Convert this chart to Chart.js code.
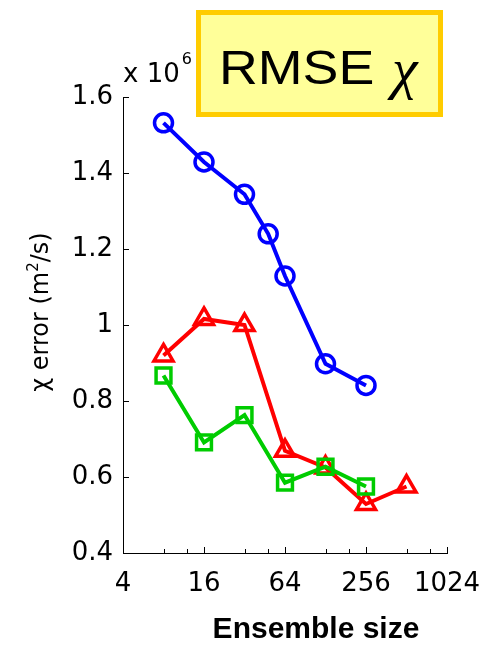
<!DOCTYPE html>
<html>
<head>
<meta charset="utf-8">
<script src="https://cdn.jsdelivr.net/npm/chart.js@4/dist/chart.umd.min.js"></script>
<style>
  html, body { margin: 0; padding: 0; background: #fff; }
  #wrap { width: 483px; height: 659px; }
</style>
</head>
<body>
<div id="wrap"><canvas id="c" width="483" height="659"></canvas></div>
<script>
// Ensemble sizes used by each run
const sizesCircle = [8, 16, 32, 48, 64, 128, 256];
const sizesTriangle = [8, 16, 32, 64, 128, 256, 512];
const sizesSquare = [8, 16, 32, 64, 128, 256];

// RMSE of chi, in units of 10^6 m^2/s
const rmseCircle = [1.532, 1.429, 1.344, 1.240, 1.129, 0.898, 0.841];
const rmseTriangle = [0.920, 1.016, 1.000, 0.669, 0.625, 0.529, 0.575];
const rmseSquare = [0.867, 0.691, 0.763, 0.585, 0.627, 0.575];

// Axis ticks
const xTickValues = [4, 16, 64, 256, 1024];
const xTickLabels = ['4', '16', '64', '256', '1024'];
const xMinorTicks = [8, 12, 32, 48, 128, 192, 512, 768];
const yTickValues = [0.4, 0.6, 0.8, 1.0, 1.2, 1.4, 1.6];
const yTickLabels = ['0.4', '0.6', '0.8', '1', '1.2', '1.4', '1.6'];

const toPoints = (xs, ys) => xs.map((x, i) => ({ x: x, y: ys[i] }));

// Inward tick marks on the two visible axes
const innerTicks = {
  id: 'innerTicks',
  beforeDatasetsDraw(chart) {
    const ctx = chart.ctx, xs = chart.scales.x, ys = chart.scales.y, a = chart.chartArea;
    ctx.save();
    ctx.strokeStyle = '#000';
    ctx.lineWidth = 1;
    ctx.beginPath();
    xTickValues.forEach(v => {
      const px = Math.round(xs.getPixelForValue(v)) + 0.5;
      ctx.moveTo(px, a.bottom); ctx.lineTo(px, a.bottom - 6);
    });
    xMinorTicks.forEach(v => {
      const px = Math.round(xs.getPixelForValue(v)) + 0.5;
      ctx.moveTo(px, a.bottom); ctx.lineTo(px, a.bottom - 4);
    });
    yTickValues.forEach(v => {
      const py = Math.round(ys.getPixelForValue(v)) + 0.5;
      ctx.moveTo(a.left, py); ctx.lineTo(a.left + 6, py);
    });
    ctx.stroke();
    ctx.restore();
  }
};

// Axis titles, exponent note and the boxed heading
const annotations = {
  id: 'annotations',
  afterDraw(chart) {
    const ctx = chart.ctx, a = chart.chartArea;
    ctx.save();
    ctx.fillStyle = '#000';
    ctx.textAlign = 'left';
    ctx.textBaseline = 'alphabetic';

    // exponent of the y axis
    ctx.font = '26px "DejaVu Sans"';
    ctx.fillText('x 10', a.left, 82);
    const w10 = ctx.measureText('x 10').width;
    ctx.font = '16px "DejaVu Sans"';
    ctx.fillText('6', a.left + w10 + 2, 64);

    // y axis title (rotated)
    const parts = [
      { t: '\u03C7 error (m', f: '24px "DejaVu Sans"', dy: 0 },
      { t: '2', f: '15px "DejaVu Sans"', dy: -10 },
      { t: '/s)', f: '24px "DejaVu Sans"', dy: 0 }
    ];
    let total = 0;
    parts.forEach(p => { ctx.font = p.f; p.w = ctx.measureText(p.t).width; total += p.w; });
    ctx.save();
    ctx.translate(48, (a.top + a.bottom) / 2 - 13);
    ctx.rotate(-Math.PI / 2);
    let cx = -total / 2;
    parts.forEach(p => { ctx.font = p.f; ctx.fillText(p.t, cx, p.dy); cx += p.w; });
    ctx.restore();

    // x axis title
    ctx.font = 'bold 30px "Liberation Sans"';
    ctx.textAlign = 'center';
    ctx.fillText('Ensemble size', 316, 638);

    // heading box
    ctx.fillStyle = '#FFFF99';
    ctx.fillRect(198.5, 12.5, 242, 102);
    ctx.strokeStyle = '#FFCC00';
    ctx.lineWidth = 5;
    ctx.strokeRect(198.5, 12.5, 242, 102);
    ctx.fillStyle = '#000';
    ctx.textAlign = 'left';
    ctx.save();
    ctx.translate(219, 84);
    ctx.scale(1.12, 1);
    ctx.font = '48px "Liberation Sans"';
    ctx.fillText('RMSE', 0, 0);
    ctx.restore();
    ctx.font = 'italic 58px "Liberation Serif"';
    ctx.fillText('\u03C7', 392, 88);
    ctx.restore();
  }
};

new Chart(document.getElementById('c'), {
  type: 'scatter',
  data: {
    datasets: [
      {
        label: 'circles',
        data: toPoints(sizesCircle, rmseCircle),
        showLine: true,
        borderColor: '#0000FF',
        backgroundColor: 'rgba(0,0,0,0)',
        borderWidth: 4,
        pointStyle: 'circle',
        pointRadius: 9,
        pointBorderWidth: 3.5,
        pointBorderColor: '#0000FF',
        pointBackgroundColor: 'rgba(0,0,0,0)',
        order: 3,
        clip: false
      },
      {
        label: 'triangles',
        data: toPoints(sizesTriangle, rmseTriangle),
        showLine: true,
        borderColor: '#FF0000',
        backgroundColor: 'rgba(0,0,0,0)',
        borderWidth: 4,
        pointStyle: 'triangle',
        pointRadius: 11,
        pointBorderWidth: 3.5,
        pointBorderColor: '#FF0000',
        pointBackgroundColor: 'rgba(0,0,0,0)',
        order: 2,
        clip: false
      },
      {
        label: 'squares',
        data: toPoints(sizesSquare, rmseSquare),
        showLine: true,
        borderColor: '#00CC00',
        backgroundColor: 'rgba(0,0,0,0)',
        borderWidth: 4,
        pointStyle: 'rect',
        pointRadius: 10.5,
        pointBorderWidth: 3.5,
        pointBorderColor: '#00CC00',
        pointBackgroundColor: 'rgba(0,0,0,0)',
        order: 1,
        clip: false
      }
    ]
  },
  options: {
    responsive: false,
    animation: false,
    devicePixelRatio: 1,
    layout: { padding: { top: 97, right: 36, left: 0, bottom: 0 } },
    plugins: { legend: { display: false }, tooltip: { enabled: false }, title: { display: false } },
    scales: {
      x: {
        type: 'logarithmic',
        min: 4,
        max: 1024,
        grid: { display: false, drawTicks: false },
        border: { display: true, color: '#000', width: 1 },
        afterBuildTicks: s => { s.ticks = xTickValues.map(v => ({ value: v })); },
        afterFit: s => { s.height = 106; s.paddingLeft = 0; s.paddingRight = 0; },
        ticks: {
          autoSkip: false,
          maxRotation: 0,
          padding: 16,
          color: '#000',
          font: { family: '"DejaVu Sans"', size: 26 },
          callback: (v, i) => xTickLabels[i]
        }
      },
      y: {
        type: 'linear',
        min: 0.4,
        max: 1.6,
        grid: { display: false, drawTicks: false },
        border: { display: true, color: '#000', width: 1 },
        afterBuildTicks: s => { s.ticks = yTickValues.map(v => ({ value: v })); },
        afterFit: s => { s.width = 123; s.paddingTop = 0; s.paddingBottom = 0; },
        ticks: {
          autoSkip: false,
          padding: 10,
          color: '#000',
          font: { family: '"DejaVu Sans"', size: 26 },
          callback: (v, i) => yTickLabels[i]
        }
      }
    }
  },
  plugins: [innerTicks, annotations]
});
</script>
</body>
</html>
